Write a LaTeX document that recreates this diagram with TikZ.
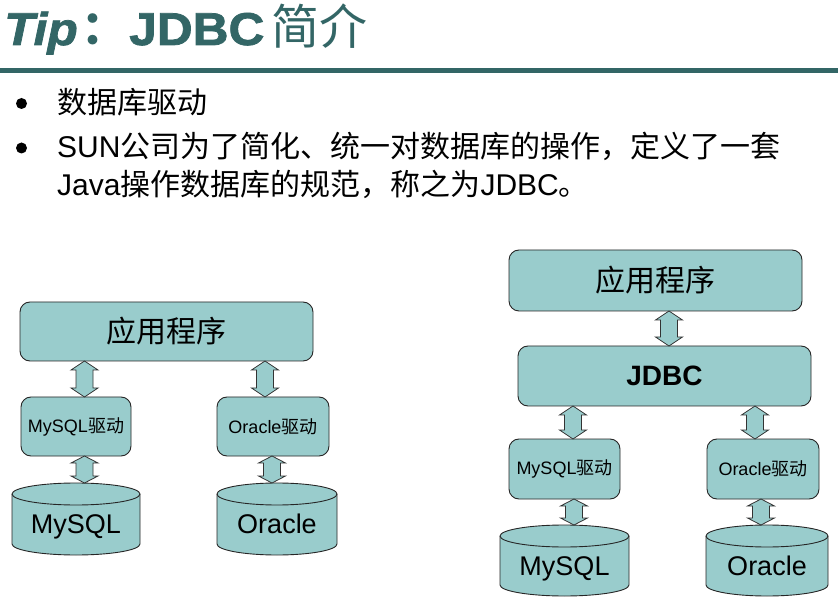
\documentclass[tikz,border=0pt]{standalone}
\usepackage{fontspec}
\setmainfont{Liberation Sans}
\newfontfamily\cjk{Noto Sans CJK SC}
\newfontfamily\titlefont[FakeStretch=1.08, FakeBold=1.6]{Liberation Sans}
\usetikzlibrary{calc}
\definecolor{tealdark}{RGB}{51,102,102}
\definecolor{boxfill}{RGB}{153,204,204}
\tikzset{
  box/.style={draw=black!85, fill=boxfill, rounded corners=10pt, line width=0.9pt,
    inner sep=0pt, outer sep=0pt},
  bigtext/.style={font=\fontsize{30}{34}\selectfont\cjk},
  smalltext/.style={font=\fontsize{18}{22}\selectfont},
  dbtext/.style={font=\fontsize{27}{30}\selectfont, anchor=base, inner sep=0pt},
  blk/.style={draw=black!80, fill=boxfill, line width=0.8pt, line join=miter},
  cylbody/.style={draw=black!85, fill=boxfill, line width=0.9pt},
  bullettext/.style={anchor=base west, inner sep=0pt, font=\fontsize{30}{38}\selectfont},
  titletext/.style={anchor=base west, inner sep=0pt, text=tealdark, font=\fontsize{46}{52}\selectfont},
}
% double block arrow: x position, top anchor, bottom anchor, head length
\newcommand\dblarr[4]{%
  \draw[blk] let \p1=(#2), \p2=(#3) in
    (#1pt,\y1) -- (#1pt+13.5pt,\y1-#4pt) -- (#1pt+8.5pt,\y1-#4pt) --
    (#1pt+8.5pt,\y2+#4pt) -- (#1pt+13.5pt,\y2+#4pt) -- (#1pt,\y2) --
    (#1pt-13.5pt,\y2+#4pt) -- (#1pt-8.5pt,\y2+#4pt) -- (#1pt-8.5pt,\y1-#4pt) --
    (#1pt-13.5pt,\y1-#4pt) -- cycle;}
% cylinder: name, cx, cy, width, height, text, baseline offset below centre
\newcommand\dbcyl[7]{%
  \node[minimum width=#4pt, minimum height=#5pt, inner sep=0pt, outer sep=0pt] (#1) at (#2,-#3) {};
  \draw[cylbody] ([yshift=-11pt]#1.north west) -- ([yshift=11pt]#1.south west)
    arc[start angle=180, end angle=360, x radius=#4pt/2, y radius=11pt]
    -- ([yshift=-11pt]#1.north east)
    arc[start angle=0, end angle=180, x radius=#4pt/2, y radius=11pt] -- cycle;
  \draw[cylbody, fill=none] ([yshift=-11pt]#1.north west)
    arc[start angle=180, end angle=360, x radius=#4pt/2, y radius=11pt];
  \node[dbtext] (#1text) at ([yshift=-#7pt]#1.center) {#6};}
\begin{document}
\begin{tikzpicture}[x=1pt, y=1pt]
\useasboundingbox[fill=white] (0,0) rectangle (838,-601);
% title
\node[titletext] (tip) at (4,-45) {\titlefont\bfseries\itshape Tip\hspace{4pt}{\cjk\upshape\bfseries ：}};
\node[titletext] (ttl) at (129,-45) {{\titlefont\bfseries JDBC}\hspace{7pt}{\cjk\fontsize{48}{52}\selectfont 简介}};
\fill[tealdark] (0,-68) rectangle (838,-73);
% bullets
\fill (21.5,-103.5) circle (5.5pt);
\fill (21.5,-148) circle (5.5pt);
\node[bullettext] (b1) at (57,-114) {\cjk 数据库驱动};
\node[bullettext] (b2) at (57,-158) {SUN{\cjk 公司为了简化、统一对数据库的操作，定义了一套}};
\node[bullettext] (b3) at (57,-196) {Java{\cjk 操作数据库的规范，称之为}JDBC{\cjk 。}};
% left diagram
\node[box, minimum width=293pt, minimum height=59pt, bigtext] (appL) at (166.5,-331.5) {应用程序};
\node[box, minimum width=110pt, minimum height=59pt, smalltext] (mdL) at (76,-426.5) {MySQL{\cjk 驱动}};
\node[box, minimum width=112pt, minimum height=59pt, smalltext] (odL) at (273,-426.5) {Oracle{\cjk 驱动}};
\dbcyl{dbL1}{76}{519}{128}{72}{MySQL}{14}
\dbcyl{dbL2}{277}{519}{120}{72}{Oracle}{14}
\dblarr{84.5}{appL.south}{mdL.north}{9}
\dblarr{265}{appL.south}{odL.north}{9}
\dblarr{84.5}{mdL.south}{dbL1.north}{7}
\dblarr{272}{odL.south}{dbL2.north}{7}
% right diagram
\node[box, minimum width=293pt, minimum height=61pt, bigtext] (appR) at (655.5,-280.5) {应用程序};
\node[box, minimum width=293pt, minimum height=60pt, font=\fontsize{28}{32}\selectfont\bfseries] (jdbc) at (664.5,-376) {JDBC};
\node[box, minimum width=111pt, minimum height=60pt, smalltext] (mdR) at (564.5,-469) {MySQL{\cjk 驱动}};
\node[box, minimum width=112pt, minimum height=60pt, smalltext] (odR) at (763,-469) {Oracle{\cjk 驱动}};
\dbcyl{dbR1}{564.5}{560.5}{129}{71}{MySQL}{15}
\dbcyl{dbR2}{767}{560.5}{122}{71}{Oracle}{15}
\dblarr{669}{appR.south}{jdbc.north}{9}
\dblarr{573}{jdbc.south}{mdR.north}{9}
\dblarr{755}{jdbc.south}{odR.north}{9}
\dblarr{574}{mdR.south}{dbR1.north}{7}
\dblarr{761}{odR.south}{dbR2.north}{7}
\end{tikzpicture}
\end{document}
